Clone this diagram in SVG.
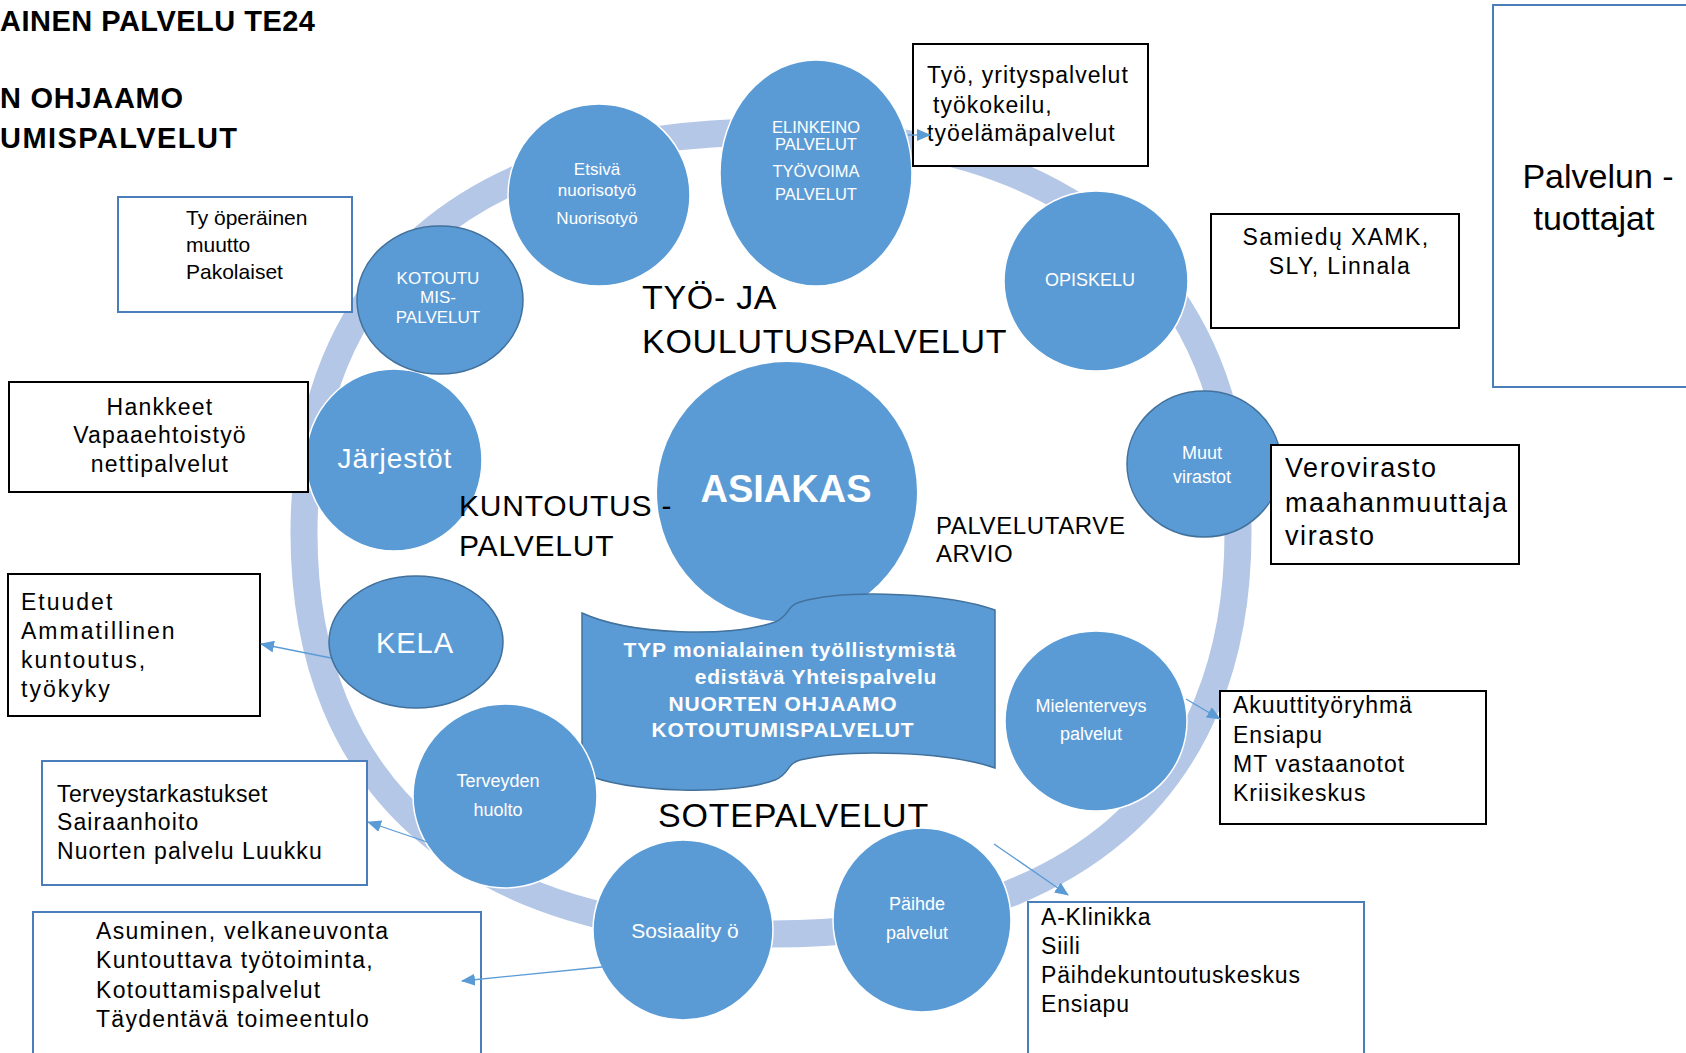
<svg xmlns="http://www.w3.org/2000/svg" width="1686" height="1053" viewBox="0 0 1686 1053">
<style>
text{font-family:"Liberation Sans",Arial,sans-serif}
.title{font-weight:bold;font-size:29px;fill:#000}
.lbl{fill:#000}
.node{fill:#5b9bd5}
.ws{stroke:#ffffff;stroke-width:1.5}
.ds{stroke:#41719c;stroke-width:1.5}
.ct{fill:#fff;text-anchor:middle}
.bt-banner{fill:#fff;text-anchor:middle;font-size:21px;font-weight:bold;letter-spacing:0.8px}
.bk{fill:#fff;stroke:#000;stroke-width:2}
.bl{fill:#fff;stroke:#4a7ebb;stroke-width:2}
.bt{fill:#000;font-size:23px}
.conn{stroke:#5b9bd5;stroke-width:1.3;fill:none;marker-end:url(#ah)}
</style>
<defs>
<marker id="ah" markerUnits="userSpaceOnUse" markerWidth="14" markerHeight="12" refX="13" refY="6" orient="auto">
<path d="M0,0 L14,6 L0,12 Z" fill="#5b9bd5"/>
</marker>
</defs>
<rect width="1686" height="1053" fill="#fff"/>

<g id="titles">
<text class="title" x="0" y="31" textLength="315" lengthAdjust="spacing">AINEN PALVELU TE24</text>
<text class="title" x="0" y="108" textLength="183" lengthAdjust="spacing">N OHJAAMO</text>
<text class="title" x="0" y="148" textLength="237" lengthAdjust="spacing">UMISPALVELUT</text>
</g>

<g id="ring">
<path d="M1238,533 C1238,790 1070,934 771,934 C472,934 304,790 304,533 C304,276 472,132 771,132 C1070,132 1238,276 1238,533 Z" fill="none" stroke="#b4c7e7" stroke-width="27"/>
</g>

<g id="node-asiakas">
<ellipse class="node" cx="787" cy="492" rx="130" ry="130"/>
<text class="ct" x="786" y="502" font-size="38" font-weight="bold">ASIAKAS</text>
</g>

<g id="node-typ">
<path class="node ds" d="M582,613 C630,635 730,638 775,622 C790,616 786,606 800,602 C850,588 950,594 995,610 L995,768 C950,752 850,748 800,760 C786,764 790,774 775,780 C735,795 630,794 582,773 Z"/>
<text class="bt-banner" x="790" y="657">TYP monialainen työllistymistä</text>
<text class="bt-banner" x="816" y="684">edistävä Yhteispalvelu</text>
<text class="bt-banner" x="783" y="711">NUORTEN OHJAAMO</text>
<text class="bt-banner" x="783" y="737">KOTOUTUMISPALVELUT</text>
</g>

<g id="node-etsiva">
<ellipse class="node ws" cx="599" cy="195" rx="91" ry="91"/>
<text class="ct" x="597" y="175" font-size="17">Etsivä</text>
<text class="ct" x="597" y="196" font-size="17">nuorisotyö</text>
<text class="ct" x="597" y="224" font-size="17">Nuorisotyö</text>
</g>

<g id="node-elinkeino">
<ellipse class="node ws" cx="816" cy="173" rx="96" ry="113"/>
<text class="ct" x="816" y="133" font-size="16.5">ELINKEINO</text>
<text class="ct" x="816" y="150" font-size="16.5">PALVELUT</text>
<text class="ct" x="816" y="177" font-size="16.5">TYÖVOIMA</text>
<text class="ct" x="816" y="200" font-size="16.5">PALVELUT</text>
</g>

<g id="node-opiskelu">
<ellipse class="node ws" cx="1096" cy="281" rx="92" ry="90"/>
<text class="ct" x="1090" y="286" font-size="18">OPISKELU</text>
</g>

<g id="node-muut">
<ellipse class="node ds" cx="1204" cy="464" rx="77" ry="73"/>
<text class="ct" x="1202" y="459" font-size="18">Muut</text>
<text class="ct" x="1202" y="483" font-size="18">virastot</text>
</g>

<g id="node-mielenterveys">
<ellipse class="node ws" cx="1096" cy="721" rx="91" ry="90"/>
<text class="ct" x="1091" y="712" font-size="18">Mielenterveys</text>
<text class="ct" x="1091" y="740" font-size="18">palvelut</text>
</g>

<g id="node-paihde">
<ellipse class="node ws" cx="922" cy="920" rx="89" ry="92"/>
<text class="ct" x="917" y="910" font-size="18">Päihde</text>
<text class="ct" x="917" y="939" font-size="18">palvelut</text>
</g>

<g id="node-sosiaalityo">
<ellipse class="node ws" cx="683" cy="930" rx="90" ry="90"/>
<text class="ct" x="685" y="938" font-size="21">Sosiaality ö</text>
</g>

<g id="node-terveyden">
<ellipse class="node ws" cx="505" cy="796" rx="92" ry="92"/>
<text class="ct" x="498" y="787" font-size="18">Terveyden</text>
<text class="ct" x="498" y="816" font-size="18">huolto</text>
</g>

<g id="node-kela">
<ellipse class="node ds" cx="416" cy="642" rx="87" ry="66"/>
<text class="ct" x="415" y="653" font-size="29" letter-spacing="1">KELA</text>
</g>

<g id="node-jarjestot">
<ellipse class="node ws" cx="394" cy="460" rx="88" ry="91"/>
<text class="ct" x="395" y="468" font-size="28" letter-spacing="1">Järjestöt</text>
</g>

<g id="node-kotoutu">
<ellipse class="node ds" cx="440" cy="300" rx="83" ry="74"/>
<text class="ct" x="438" y="284" font-size="17">KOTOUTU</text>
<text class="ct" x="438" y="303" font-size="17">MIS-</text>
<text class="ct" x="438" y="323" font-size="17">PALVELUT</text>
</g>

<g id="section-labels">
<text class="lbl" x="642" y="309" font-size="34" letter-spacing="0.7">TYÖ- JA</text>
<text class="lbl" x="642" y="353" font-size="34" letter-spacing="0.7">KOULUTUSPALVELUT</text>
<text class="lbl" x="459" y="516" font-size="30" letter-spacing="0.8">KUNTOUTUS -</text>
<text class="lbl" x="459" y="556" font-size="30" letter-spacing="0.8">PALVELUT</text>
<text class="lbl" x="936" y="534" font-size="24" letter-spacing="0.6">PALVELUTARVE</text>
<text class="lbl" x="936" y="562" font-size="24" letter-spacing="0.6">ARVIO</text>
<text class="lbl" x="658" y="827" font-size="34" letter-spacing="0.8">SOTEPALVELUT</text>
</g>

<g id="box-tyoperainen">
<rect class="bl" x="118" y="197" width="234" height="115"/>
<text class="bt" x="186" y="225" style="font-size:21px">Ty öperäinen</text>
<text class="bt" x="186" y="252" style="font-size:21px">muutto</text>
<text class="bt" x="186" y="279" style="font-size:21px">Pakolaiset</text>
</g>

<g id="box-hankkeet">
<rect class="bk" x="9" y="382" width="299" height="110"/>
<text class="bt" x="160" y="415" letter-spacing="1.2" text-anchor="middle">Hankkeet</text>
<text class="bt" x="160" y="443" letter-spacing="1.2" text-anchor="middle">Vapaaehtoistyö</text>
<text class="bt" x="160" y="472" letter-spacing="1.2" text-anchor="middle">nettipalvelut</text>
</g>

<g id="box-tyo">
<rect class="bk" x="913" y="44" width="235" height="122"/>
<text class="bt" x="927" y="83" letter-spacing="1">Työ, yrityspalvelut</text>
<text class="bt" x="933" y="113" letter-spacing="1">työkokeilu,</text>
<text class="bt" x="927" y="141" letter-spacing="1">työelämäpalvelut</text>
</g>

<g id="box-samiedu">
<rect class="bk" x="1211" y="214" width="248" height="114"/>
<text class="bt" x="1336" y="245" letter-spacing="1.4" text-anchor="middle">Samiedų XAMK,</text>
<text class="bt" x="1340" y="274" letter-spacing="1.4" text-anchor="middle">SLY, Linnala</text>
</g>

<g id="box-palvelun">
<rect class="bl" x="1493" y="5" width="220" height="382"/>
<text class="bt" x="1598" y="188" text-anchor="middle" style="font-size:34px">Palvelun -</text>
<text class="bt" x="1594" y="230" text-anchor="middle" style="font-size:34px">tuottajat</text>
</g>

<g id="box-verovirasto">
<rect class="bk" x="1271" y="445" width="248" height="119"/>
<text class="bt" x="1285" y="477" letter-spacing="1.6" style="font-size:27px">Verovirasto</text>
<text class="bt" x="1285" y="512" letter-spacing="1.6" style="font-size:27px">maahanmuuttaja</text>
<text class="bt" x="1285" y="545" letter-spacing="1.6" style="font-size:27px">virasto</text>
</g>

<g id="box-etuudet">
<rect class="bk" x="8" y="574" width="252" height="142"/>
<text class="bt" x="21" y="610" letter-spacing="2">Etuudet</text>
<text class="bt" x="21" y="639" letter-spacing="2">Ammatillinen</text>
<text class="bt" x="21" y="668" letter-spacing="2">kuntoutus,</text>
<text class="bt" x="21" y="697" letter-spacing="2">työkyky</text>
</g>

<g id="box-terveys">
<rect class="bl" x="42" y="761" width="325" height="124"/>
<text class="bt" x="57" y="802" letter-spacing="0.4">Terveystarkastukset</text>
<text class="bt" x="57" y="830" letter-spacing="1.1">Sairaanhoito</text>
<text class="bt" x="57" y="859" letter-spacing="1.1">Nuorten palvelu Luukku</text>
</g>

<g id="box-asuminen">
<rect class="bl" x="33" y="912" width="448" height="160"/>
<text class="bt" x="96" y="939" letter-spacing="1.3">Asuminen, velkaneuvonta</text>
<text class="bt" x="96" y="968" letter-spacing="1.3">Kuntouttava työtoiminta,</text>
<text class="bt" x="96" y="998" letter-spacing="1.3">Kotouttamispalvelut</text>
<text class="bt" x="96" y="1027" letter-spacing="1.3">Täydentävä toimeentulo</text>
</g>

<g id="box-akuutti">
<rect class="bk" x="1220" y="691" width="266" height="133"/>
<text class="bt" x="1233" y="713" letter-spacing="1">Akuuttityöryhmä</text>
<text class="bt" x="1233" y="743" letter-spacing="1">Ensiapu</text>
<text class="bt" x="1233" y="772" letter-spacing="1">MT vastaanotot</text>
<text class="bt" x="1233" y="801" letter-spacing="1">Kriisikeskus</text>
</g>

<g id="box-aklinikka">
<rect class="bl" x="1028" y="902" width="336" height="170"/>
<text class="bt" x="1041" y="925" letter-spacing="0.8">A-Klinikka</text>
<text class="bt" x="1041" y="954" letter-spacing="0.8">Siili</text>
<text class="bt" x="1041" y="983" letter-spacing="0.8">Päihdekuntoutuskeskus</text>
<text class="bt" x="1041" y="1012" letter-spacing="0.8">Ensiapu</text>
</g>

<g id="connectors">
<line class="conn" x1="908" y1="135" x2="930" y2="135"/>
<line class="conn" x1="331" y1="658" x2="261" y2="644"/>
<line class="conn" x1="427" y1="842" x2="368" y2="822"/>
<line class="conn" x1="602" y1="967" x2="462" y2="981"/>
<line class="conn" x1="1186" y1="699" x2="1220" y2="719"/>
<line class="conn" x1="994" y1="844" x2="1068" y2="895"/>
</g>
</svg>
